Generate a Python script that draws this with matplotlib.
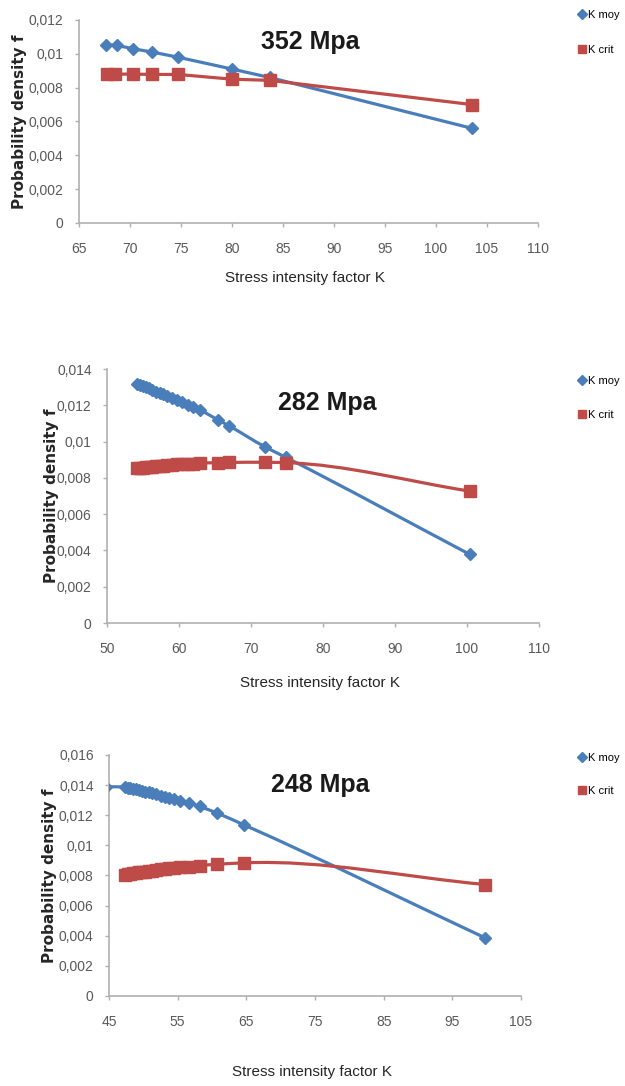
import numpy as np
import matplotlib
matplotlib.use("Agg")
import matplotlib.pyplot as plt
from matplotlib.path import Path
from matplotlib.patches import PathPatch
from matplotlib.lines import Line2D
from matplotlib.ticker import FuncFormatter, MultipleLocator

# ---- data ----
# 352 Mpa
k1_moy = [67.6, 68.7, 70.3, 72.2, 74.7, 80.0, 83.7, 103.5]
f1_moy = [0.01053, 0.0105, 0.0103, 0.0101, 0.0098, 0.0091, 0.0086, 0.0056]
k1_crit = [67.7, 68.5, 70.3, 72.2, 74.7, 80.0, 83.7, 103.5]
f1_crit = [0.0088, 0.0088, 0.0088, 0.00878, 0.00878, 0.0085, 0.00843, 0.0070]

# 282 Mpa
k2 = [54.2, 54.6, 55.0, 55.4, 55.8, 56.3, 56.8, 57.3, 57.8, 58.4, 59.0,
      59.7, 60.4, 61.2, 62.0, 62.9, 65.4, 66.9, 71.9, 74.8, 100.4]
f2_moy = [0.0132, 0.01313, 0.01307, 0.0130, 0.01293, 0.01285, 0.01276,
          0.01268, 0.0126, 0.01249, 0.01239, 0.01228, 0.01216, 0.01202,
          0.01189, 0.01174, 0.0112, 0.01088, 0.00972, 0.00914, 0.00378]
f2_crit = [0.00853, 0.00855, 0.00857, 0.00859, 0.0086, 0.00862, 0.00864,
           0.00866, 0.00868, 0.0087, 0.00872, 0.00874, 0.00876, 0.00877,
           0.00879, 0.00881, 0.00884, 0.00885, 0.00886, 0.00884, 0.00727]

# 248 Mpa
k3_moy = [44.6, 47.3, 47.7, 48.1, 48.5, 48.9, 49.3, 49.8, 50.3, 50.8, 51.3,
          51.9, 52.5, 53.1, 53.8, 54.5, 55.3, 56.6, 58.2, 60.7, 64.7, 99.8]
f3_moy = [0.0139, 0.01385, 0.01382, 0.01378, 0.01375, 0.01371, 0.01367,
          0.01362, 0.01357, 0.01352, 0.01346, 0.01339, 0.01331, 0.01323,
          0.01314, 0.01305, 0.01296, 0.01282, 0.01258, 0.01215, 0.01135, 0.00385]
k3_crit = [47.3, 47.7, 48.1, 48.5, 48.9, 49.3, 49.8, 50.3, 50.8, 51.3,
           51.9, 52.5, 53.1, 53.8, 54.5, 55.3, 56.6, 58.2, 60.7, 64.7, 99.8]
f3_crit = [0.00805, 0.00808, 0.00811, 0.00814, 0.00817, 0.0082, 0.00823,
           0.00826, 0.00829, 0.00832, 0.00836, 0.0084, 0.00843, 0.00847,
           0.0085, 0.00854, 0.00859, 0.00866, 0.00874, 0.00884, 0.0074]

titles = ["352 Mpa", "282 Mpa", "248 Mpa"]
legend_labels = ["K moy", "K crit"]

BLUE = "#4a7ebb"
RED = "#be4b48"
NARROW = ["Liberation Sans", "DejaVu Sans"]
GREY = "#595959"


def draw_line(ax, x, y, color, smooth=True):
    # excel-like smoothed line: catmull-rom (chordal) turned into bezier
    if not smooth:
        ax.plot(x, y, color=color, lw=2.3, solid_capstyle="round", zorder=2)
        return
    pts = ax.transData.transform(np.column_stack([x, y]))
    n = len(pts)
    verts = [pts[0]]
    codes = [Path.MOVETO]

    def tangent(pa, pb, pc):
        dab = np.linalg.norm(pb - pa)
        dbc = np.linalg.norm(pc - pb)
        if dab < 1e-9:
            return (pc - pb) / dbc
        if dbc < 1e-9:
            return (pb - pa) / dab
        return (pb - pa) / dab - (pc - pa) / (dab + dbc) + (pc - pb) / dbc

    for i in range(n - 1):
        p0 = pts[i - 1] if i > 0 else pts[i]
        p1, p2 = pts[i], pts[i + 1]
        p3 = pts[i + 2] if i + 2 < n else pts[i + 1]
        d = np.linalg.norm(p2 - p1)
        c1 = p1 + tangent(p0, p1, p2) * d / 3
        c2 = p2 - tangent(p1, p2, p3) * d / 3
        verts += [c1, c2, p2]
        codes += [Path.CURVE4] * 3
    verts = ax.transData.inverted().transform(np.array(verts))
    ax.add_patch(PathPatch(Path(verts, codes), facecolor="none", edgecolor=color,
                           lw=2.3, capstyle="round", joinstyle="round", zorder=2))


def comma_fmt(v, pos):
    if abs(v) < 1e-12:
        return "0"
    return ("%g" % round(v, 6)).replace(".", ",")


fig = plt.figure(figsize=(6.25, 10.86), dpi=100)

panels = [
    dict(pos=[0.1264, 0.7947, 0.7344, 0.1869], xlim=(65, 110), xstep=5, ylim=(0, 0.012),
         moy=(k1_moy, f1_moy), crit=(k1_crit, f1_crit), smooth=False,
         title_xy=(0.497, 0.961), xlabel_y=0.744, ylabel_x=0.032, leg_y=(0.986, 0.954)),
    dict(pos=[0.1712, 0.4263, 0.6912, 0.2339], xlim=(50, 110), xstep=10, ylim=(0, 0.014),
         moy=(k2, f2_moy), crit=(k2, f2_crit), smooth=True,
         title_xy=(0.523, 0.629), xlabel_y=0.371, ylabel_x=0.083, leg_y=(0.649, 0.618)),
    dict(pos=[0.1744, 0.0829, 0.6592, 0.2219], xlim=(45, 105), xstep=10, ylim=(0, 0.016),
         moy=(k3_moy, f3_moy), crit=(k3_crit, f3_crit), smooth=True,
         title_xy=(0.512, 0.277), xlabel_y=0.0129, ylabel_x=0.080, leg_y=(0.302, 0.272)),
]

for p, title in zip(panels, titles):
    ax = fig.add_axes(p["pos"])
    ax.set_xlim(*p["xlim"])
    ax.set_ylim(*p["ylim"])
    ax.set_xticks(np.arange(p["xlim"][0], p["xlim"][1] + 0.1, p["xstep"]))
    ax.yaxis.set_major_locator(MultipleLocator(0.002))
    ax.yaxis.set_major_formatter(FuncFormatter(comma_fmt))
    for s in ["top", "right"]:
        ax.spines[s].set_visible(False)
    for s in ["left", "bottom"]:
        ax.spines[s].set_color("#b0b0b0")
        ax.spines[s].set_linewidth(1.2)
    ax.tick_params(colors="#b0b0b0", labelcolor=GREY, length=3, width=1,
                   labelsize=10, direction="out")
    ax.tick_params(axis="x", pad=11)
    ax.tick_params(axis="y", pad=8)
    for lab in ax.get_xticklabels() + ax.get_yticklabels():
        lab.set_family(NARROW)

    draw_line(ax, *p["moy"], BLUE, p["smooth"])
    draw_line(ax, *p["crit"], RED, p["smooth"])
    ax.plot(*p["moy"], ls="none", marker="D", ms=6.5, color=BLUE, mec=BLUE, zorder=3)
    ax.plot(*p["crit"], ls="none", marker="s", ms=8, color=RED, mec=RED, zorder=3)

    fig.text(*p["title_xy"], title, ha="center", va="center", fontsize=18,
             fontweight="bold", family=NARROW, color="#1a1a1a")
    fig.text(p["pos"][0] + p["pos"][2] / 2 - 0.005, p["xlabel_y"], "Stress intensity factor K",
             ha="center", va="center", fontsize=11, family=NARROW, color="#262626")
    fig.text(p["ylabel_x"], p["pos"][1] + p["pos"][3] / 2, "Probability density f",
             rotation=90, ha="center", va="center", fontsize=11, fontweight="bold",
             color="#262626")

    handles = [Line2D([], [], ls="none", marker="D", ms=5, color=BLUE),
               Line2D([], [], ls="none", marker="s", ms=6, color=RED)]
    for h, lab, yy in zip(handles, legend_labels, p["leg_y"]):
        fig.legend([h], [lab], loc="center left", bbox_to_anchor=(0.915, yy),
                   frameon=False, handlelength=0.8, handletextpad=0.15,
                   borderpad=0, prop={"family": NARROW, "size": 8})

fig.savefig("out.png", dpi=100)
